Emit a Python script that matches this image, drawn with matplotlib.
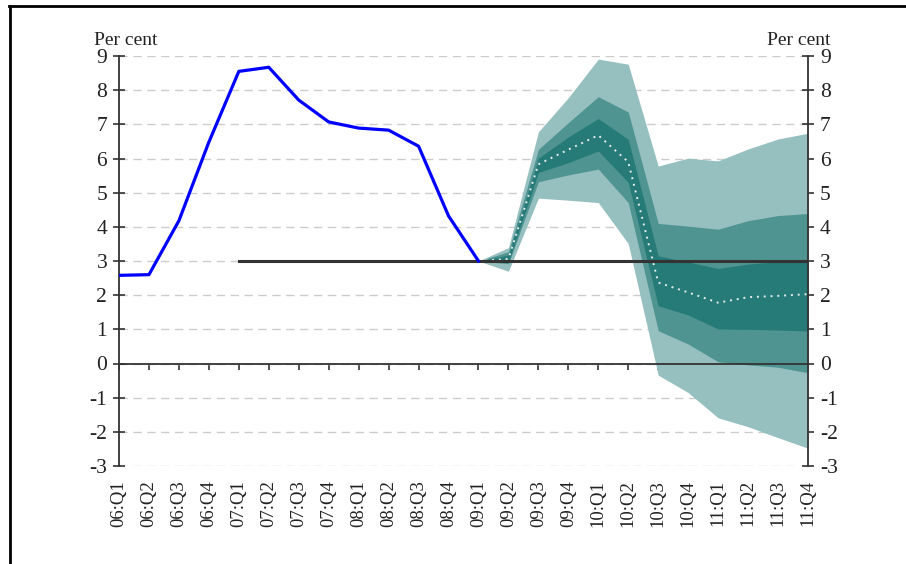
import matplotlib
matplotlib.use("Agg")
import matplotlib.pyplot as plt
from matplotlib.lines import Line2D

plt.rcParams['font.family'] = ['Liberation Serif', 'DejaVu Serif']
plt.rcParams['axes.unicode_minus'] = False

# kvartaler
quarters = ['06:Q1', '06:Q2', '06:Q3', '06:Q4', '07:Q1', '07:Q2', '07:Q3', '07:Q4',
            '08:Q1', '08:Q2', '08:Q3', '08:Q4', '09:Q1', '09:Q2', '09:Q3', '09:Q4',
            '10:Q1', '10:Q2', '10:Q3', '10:Q4', '11:Q1', '11:Q2', '11:Q3', '11:Q4']

# historikk 06:Q1 - 09:Q1
actual = [2.58, 2.60, 4.18, 6.48, 8.55, 8.67, 7.71, 7.07, 6.89, 6.83, 6.36, 4.32, 3.0]

# vifte 09:Q1 - 11:Q4
upper90 = [3.0, 3.39, 6.78, 7.78, 8.91, 8.76, 5.78, 6.01, 5.93, 6.28, 6.57, 6.74]
upper70 = [3.0, 3.27, 6.27, 7.05, 7.81, 7.36, 4.10, 4.02, 3.93, 4.18, 4.33, 4.39]
upper50 = [3.0, 3.17, 6.01, 6.63, 7.17, 6.56, 3.15, 2.97, 2.78, 2.91, 2.98, 3.02]
median = [3.0, 3.06, 5.83, 6.26, 6.68, 5.90, 2.37, 2.08, 1.78, 1.94, 1.98, 2.03]
lower50 = [3.0, 2.97, 5.59, 5.88, 6.22, 5.30, 1.69, 1.42, 1.01, 1.00, 0.98, 0.95]
lower70 = [3.0, 2.92, 5.32, 5.52, 5.69, 4.71, 0.96, 0.57, 0.05, -0.04, -0.11, -0.27]
lower90 = [3.0, 2.70, 4.84, 4.78, 4.71, 3.51, -0.34, -0.85, -1.59, -1.85, -2.17, -2.48]

target = 3.0
target_start = '07:Q1'
fan_start = '09:Q1'

x_all = list(range(len(quarters)))
x_hist = x_all[:len(actual)]
i0 = quarters.index(fan_start)
x_fan = x_all[i0:i0 + len(median)]
x_tgt = x_all[quarters.index(target_start):]

fig = plt.figure(figsize=(9.06, 5.64), dpi=100)
ax = fig.add_axes([119 / 906, 1 - 466 / 564, (808 - 119) / 906, (466 - 56) / 564])

dark = '#333333'
# spine først, ellers nullstilles tick-oppsettet
ax.spines['top'].set_visible(False)
ax.spines['bottom'].set_position(('data', 0))
for s in ['left', 'right', 'bottom']:
    ax.spines[s].set_color(dark)
    ax.spines[s].set_linewidth(1.3)

ax.fill_between(x_fan, lower90, upper90, color='#96bfbf', lw=0, zorder=1)
ax.fill_between(x_fan, lower70, upper70, color='#4f9491', lw=0, zorder=1.1)
ax.fill_between(x_fan, lower50, upper50, color='#267a78', lw=0, zorder=1.2)
ax.plot(x_fan, median, color='#e6eeee', lw=1.4, ls=(0, (1, 2.5)), zorder=1.3)

ax.plot(x_hist, actual, color='#0000ff', lw=2.3, zorder=4)
ax.plot(x_tgt, [target] * len(x_tgt), color=dark, lw=2.2, zorder=3)

ax.set_xlim(0, len(quarters) - 1)
ax.set_ylim(-3, 9)
ax.set_yticks(range(-3, 10))
ax.set_xticks(x_all)
ax.set_xticklabels(quarters, rotation=90, fontsize=13.5, color='#222222')

ax.set_axisbelow(True)
ax.yaxis.grid(True, color='#cccccc', ls=(0, (6, 4)), lw=1)

ax.tick_params(axis='y', direction='inout', length=9, width=1.2, color=dark,
               left=True, right=True, labelleft=True, labelright=True,
               labelsize=15.5, labelcolor='#222222', pad=4)
ax.tick_params(axis='x', direction='out', length=4, width=1.2, color=dark, pad=80)

ax.text(-0.036, 1.018, 'Per cent', transform=ax.transAxes, ha='left', va='bottom',
        fontsize=14, color='#222222')
ax.text(1.032, 1.018, 'Per cent', transform=ax.transAxes, ha='right', va='bottom',
        fontsize=14, color='#222222')

# ramme
fig.add_artist(Line2D([8.5 / 906, 1], [1 - 6 / 564, 1 - 6 / 564], color='black', lw=2))
fig.add_artist(Line2D([9.5 / 906, 9.5 / 906], [0, 1 - 6 / 564], color='black', lw=2))

fig.savefig('out.png', dpi=100)
